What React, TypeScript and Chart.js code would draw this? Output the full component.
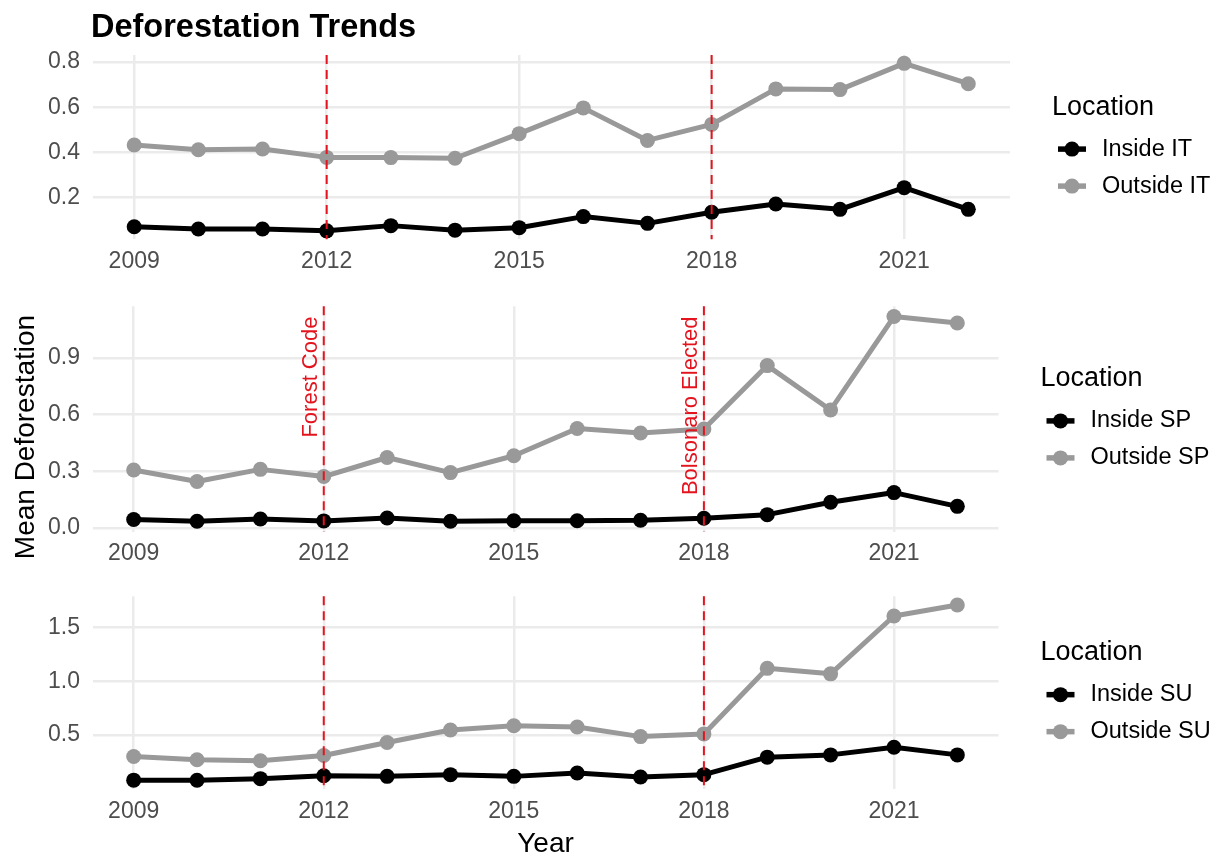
import React, { useEffect, useRef } from "react";
import { Chart, registerables } from "chart.js";

Chart.register(...registerables);

// ---- data -------------------------------------------------------------
const years = [2009, 2010, 2011, 2012, 2013, 2014, 2015, 2016, 2017, 2018, 2019, 2020, 2021, 2022];
const xTicks = [2009, 2012, 2015, 2018, 2021];
const eventYears = [2012, 2018];
const eventLabels = ["Forest Code", "Bolsonaro Elected"];

const insideIT = [0.071, 0.061, 0.061, 0.053, 0.076, 0.056, 0.067, 0.116, 0.086, 0.135, 0.172, 0.148, 0.244, 0.148];
const outsideIT = [0.433, 0.412, 0.415, 0.378, 0.377, 0.374, 0.483, 0.597, 0.453, 0.524, 0.681, 0.678, 0.794, 0.704];

const insideSP = [0.044, 0.035, 0.047, 0.037, 0.052, 0.035, 0.038, 0.038, 0.04, 0.051, 0.07, 0.136, 0.187, 0.114];
const outsideSP = [0.307, 0.246, 0.31, 0.272, 0.373, 0.293, 0.382, 0.527, 0.503, 0.524, 0.86, 0.625, 1.12, 1.086];

const insideSU = [0.08, 0.079, 0.094, 0.121, 0.115, 0.131, 0.115, 0.146, 0.109, 0.131, 0.294, 0.315, 0.386, 0.315];
const outsideSU = [0.3, 0.269, 0.26, 0.309, 0.43, 0.546, 0.586, 0.574, 0.485, 0.51, 1.12, 1.069, 1.607, 1.709];

const ticksIT = [0.2, 0.4, 0.6, 0.8];
const ticksSP = [0.0, 0.3, 0.6, 0.9];
const ticksSU = [0.5, 1.0, 1.5];

const labelsIT = ["Inside IT", "Outside IT"];
const labelsSP = ["Inside SP", "Outside SP"];
const labelsSU = ["Inside SU", "Outside SU"];

// ---- styling ----------------------------------------------------------
const FONT = '"Liberation Sans", Arial, Helvetica, sans-serif';
const BLACK = "#000000";
const GREY = "#999999";
const RED = "#E3141E";
const GRID = "#EBEBEB";
const TICK = "#4D4D4D";
const PAGE_W = 1223;

type Panel = {
  top: number;
  height: number;
  areaTop: number;
  areaBottom: number;
  areaLeft: number;
  areaRight: number;
  inside: number[];
  outside: number[];
  labels: string[];
  yTicks: number[];
  title?: string;
  yTitle?: string;
  xTitle?: string;
  eventText?: boolean;
};

const panels: Panel[] = [
  {
    top: 0, height: 280, areaTop: 55, areaBottom: 239.2, areaLeft: 92.5, areaRight: 1010,
    inside: insideIT, outside: outsideIT, labels: labelsIT, yTicks: ticksIT,
    title: "Deforestation Trends",
  },
  {
    top: 280, height: 290, areaTop: 303, areaBottom: 531.5, areaLeft: 92.5, areaRight: 998.5,
    inside: insideSP, outside: outsideSP, labels: labelsSP, yTicks: ticksSP,
    yTitle: "Mean Deforestation", eventText: true,
  },
  {
    top: 570, height: 286, areaTop: 595, areaBottom: 789, areaLeft: 92.5, areaRight: 998.5,
    inside: insideSU, outside: outsideSU, labels: labelsSU, yTicks: ticksSU,
    xTitle: "Year",
  },
];

const toPoints = (vals: number[]) => years.map((yr, i) => ({ x: yr, y: vals[i] }));

function decorations(p: Panel) {
  return {
    id: "decorations",
    afterDatasetsDraw(chart: any) {
      const { ctx, chartArea: a, scales } = chart;
      const x = scales.x;
      const y = scales.y;
      ctx.save();
      // policy event markers
      ctx.strokeStyle = RED;
      ctx.lineWidth = 2;
      ctx.setLineDash([9, 6]);
      eventYears.forEach((yr) => {
        const px = x.getPixelForValue(yr);
        ctx.beginPath();
        ctx.moveTo(px, a.top);
        ctx.lineTo(px, a.bottom);
        ctx.stroke();
      });
      ctx.setLineDash([]);
      if (p.eventText) {
        const yEnd = y.getPixelForValue(Math.max(...p.outside));
        ctx.fillStyle = RED;
        ctx.font = `22px ${FONT}`;
        ctx.textAlign = "right";
        ctx.textBaseline = "alphabetic";
        eventYears.forEach((yr, i) => {
          const px = x.getPixelForValue(yr);
          ctx.save();
          ctx.translate(px - 6.5, yEnd);
          ctx.rotate(-Math.PI / 2);
          ctx.fillText(eventLabels[i], 0, 0);
          ctx.restore();
        });
      }
      ctx.restore();
    },
    afterDraw(chart: any) {
      const { ctx, chartArea: a } = chart;
      ctx.save();
      // legend
      const lx = a.right + 42;
      const cy = (a.top + a.bottom) / 2;
      ctx.textAlign = "left";
      ctx.textBaseline = "middle";
      ctx.fillStyle = "#000";
      ctx.font = `27px ${FONT}`;
      ctx.fillText("Location", lx, cy - 40);
      const colors = [BLACK, GREY];
      p.labels.forEach((label, i) => {
        const ry = cy + 2 + i * 37;
        ctx.strokeStyle = colors[i];
        ctx.lineWidth = 5.5;
        ctx.lineCap = "butt";
        ctx.beginPath();
        ctx.moveTo(lx + 6, ry);
        ctx.lineTo(lx + 34, ry);
        ctx.stroke();
        ctx.fillStyle = colors[i];
        ctx.beginPath();
        ctx.arc(lx + 20, ry, 7.5, 0, Math.PI * 2);
        ctx.fill();
        ctx.fillStyle = "#000";
        ctx.font = `23.5px ${FONT}`;
        ctx.fillText(label, lx + 50, ry);
      });
      // titles
      ctx.fillStyle = "#000";
      ctx.textBaseline = "alphabetic";
      if (p.title) {
        ctx.font = `bold 32.5px ${FONT}`;
        ctx.textAlign = "left";
        ctx.fillText(p.title, 91, 36.5);
      }
      if (p.yTitle) {
        ctx.font = `28px ${FONT}`;
        ctx.textAlign = "center";
        ctx.save();
        ctx.translate(34, 437 - p.top);
        ctx.rotate(-Math.PI / 2);
        ctx.fillText(p.yTitle, 0, 0);
        ctx.restore();
      }
      if (p.xTitle) {
        ctx.font = `28px ${FONT}`;
        ctx.textAlign = "center";
        ctx.fillText(p.xTitle, (a.left + a.right) / 2, 852 - p.top);
      }
      ctx.restore();
    },
  };
}

function PanelChart({ p }: { p: Panel }) {
  const ref = useRef<HTMLCanvasElement | null>(null);
  useEffect(() => {
    if (!ref.current) return;
    const all = [...p.inside, ...p.outside];
    const lo = Math.min(...all);
    const hi = Math.max(...all);
    const padY = (hi - lo) * 0.05;
    const padX = (years[years.length - 1] - years[0]) * 0.05;
    const line = (vals: number[], color: string, label: string) => ({
      label,
      data: toPoints(vals),
      borderColor: color,
      backgroundColor: color,
      borderWidth: 5,
      pointRadius: 7.5,
      pointHoverRadius: 7.5,
      pointBorderWidth: 0,
      pointBackgroundColor: color,
      tension: 0,
      borderJoinStyle: "round" as const,
      borderCapStyle: "round" as const,
      clip: false as const,
    });
    const chart = new Chart(ref.current, {
      type: "line",
      data: {
        datasets: [line(p.inside, BLACK, p.labels[0]), line(p.outside, GREY, p.labels[1])],
      },
      plugins: [decorations(p)],
      options: {
        animation: false,
        responsive: false,
        maintainAspectRatio: false,
        devicePixelRatio: 1,
        events: [],
        layout: {
          padding: {
            left: 0,
            top: p.areaTop - p.top,
            right: PAGE_W - p.areaRight,
            bottom: 0,
          },
        },
        plugins: { legend: { display: false }, tooltip: { enabled: false }, title: { display: false } },
        scales: {
          x: {
            type: "linear",
            min: years[0] - padX,
            max: years[years.length - 1] + padX,
            afterBuildTicks: (s: any) => {
              s.ticks = xTicks.map((v) => ({ value: v }));
            },
            afterFit: (s: any) => {
              s.height = p.top + p.height - p.areaBottom;
            },
            grid: { color: GRID, lineWidth: 2.5, drawTicks: false },
            border: { display: false },
            ticks: {
              font: { family: FONT, size: 23 },
              color: TICK,
              padding: 8.8,
              maxRotation: 0,
              autoSkip: false,
              callback: (v: any) => String(v),
            },
          },
          y: {
            type: "linear",
            min: lo - padY,
            max: hi + padY,
            afterBuildTicks: (s: any) => {
              s.ticks = p.yTicks.map((v) => ({ value: v }));
            },
            afterFit: (s: any) => {
              s.width = p.areaLeft;
            },
            grid: { color: GRID, lineWidth: 2.5, drawTicks: false },
            border: { display: false },
            ticks: {
              font: { family: FONT, size: 23 },
              color: TICK,
              padding: 12.5,
              autoSkip: false,
              callback: (v: any) => Number(v).toFixed(1),
            },
          },
        },
      } as any,
    });
    return () => chart.destroy();
  }, [p]);
  return (
    <canvas
      ref={ref}
      width={PAGE_W}
      height={p.height}
      style={{ position: "absolute", left: 0, top: p.top, width: PAGE_W, height: p.height, display: "block" }}
    />
  );
}

export default function App() {
  return (
    <div style={{ position: "absolute", left: 0, top: 0, width: PAGE_W, height: 856, background: "#fff", overflow: "hidden" }}>
      {panels.map((p, i) => (
        <PanelChart key={i} p={p} />
      ))}
    </div>
  );
}
